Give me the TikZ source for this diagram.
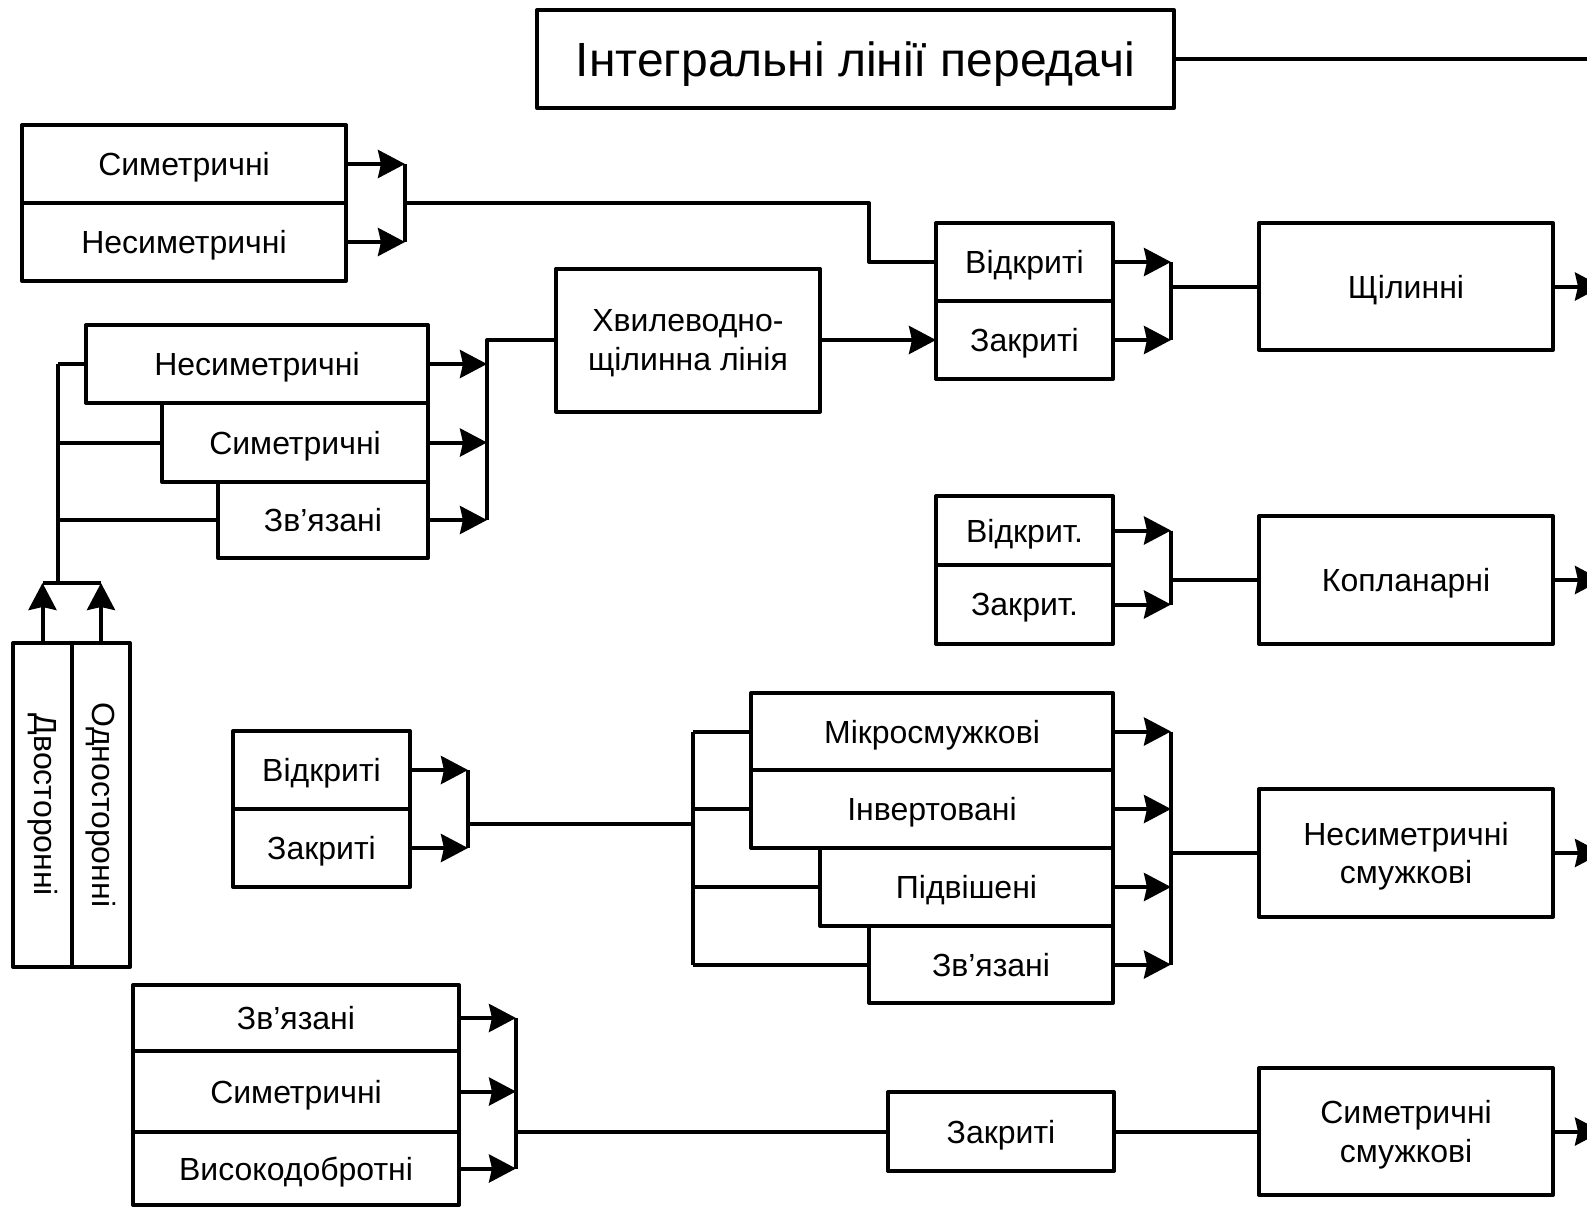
\documentclass[tikz,border=0pt]{standalone}
\usepackage{fontspec}
\setmainfont{Liberation Sans}
\usetikzlibrary{arrows.meta}
\newcommand\mybox[7][]{\node[box,minimum width=#5pt,minimum height=#6pt,#1] (#2) at (#3,#4) {#7};}
\newcommand\vtext[1]{\raisebox{\depth}{\rotatebox{-90}{#1}}}
\begin{document}
\begin{tikzpicture}[x=1pt,y=-1pt,
  box/.style={draw, line width=4pt, inner sep=0pt, outer sep=0pt, align=center,
    font=\fontsize{32}{38.5}\selectfont, text depth=0pt, line join=round},
  ln/.style={line width=4pt, line join=round},
  arr/.style={ln, -{Stealth[length=27pt,width=28pt,inset=3pt]}}]
\useasboundingbox (0,0) rectangle (1587,1208);
\clip (0,0) rectangle (1587,1208);
% title
\mybox[font=\fontsize{48}{50}\selectfont]{title}{855.5}{59}{637}{98}{Інтегральні лінії передачі}
\coordinate (tE) at (1600,59);
\draw[ln] (title.east) -- (tE);
% group A (top-left)
\mybox{a1}{184}{164}{324}{78}{Симетричні}
\mybox{a2}{184}{242}{324}{78}{Несиметричні}
\coordinate (bA1) at (405,164);
\coordinate (bA2) at (405,242);
\coordinate (bAm) at (405,203);
\coordinate (kA1) at (869,203);
\coordinate (kA2) at (869,262);
\draw[arr] (a1.east) -- (bA1);
\draw[arr] (a2.east) -- (bA2);
\draw[ln] (bA1) -- (bA2);
% group B (Щілинні)
\mybox{b1}{1024.5}{262}{177}{78}{Відкриті}
\mybox{b2}{1024.5}{340}{177}{78}{Закриті}
\draw[ln] (bAm) -- (kA1) -- (kA2) -- (b1.west);
\coordinate (bB1) at (1171,262);
\coordinate (bB2) at (1171,340);
\coordinate (bBm) at (1171,286.5);
\draw[arr] (b1.east) -- (bB1);
\draw[arr] (b2.east) -- (bB2);
\draw[ln] (bB1) -- (bB2);
\mybox{shch}{1406}{286.5}{294}{127}{Щілинні}
\draw[ln] (bBm) -- (shch.west);
\coordinate (eB) at (1602,286.5);
\draw[arr] (shch.east) -- (eB);
% waveguide-slot line
\mybox{hv}{688}{340}{264}{143}{Хвилеводно-\\щілинна лінія}
\draw[arr] (hv.east) -- (b2.west);
% group C (middle-left)
\mybox{c1}{257}{364}{342}{78}{Несиметричні}
\mybox{c2}{295}{442.5}{266}{79}{Симетричні}
\mybox{c3}{323}{520}{210}{76}{Зв’язані}
\coordinate (bC0) at (487,340);
\coordinate (bC1) at (487,364);
\coordinate (bC2) at (487,442.5);
\coordinate (bC3) at (487,520);
\draw[arr] (c1.east) -- (bC1);
\draw[arr] (c2.east) -- (bC2);
\draw[arr] (c3.east) -- (bC3);
\draw[ln] (bC3) -- (bC0) -- (hv.west);
\coordinate (sp1) at (58,364);
\coordinate (sp2) at (58,442.5);
\coordinate (sp3) at (58,520);
\coordinate (spB) at (58,583);
\coordinate (spL) at (42.5,583);
\coordinate (spR) at (101,583);
\draw[ln] (sp1) -- (spB);
\draw[ln] (sp1) -- (c1.west);
\draw[ln] (sp2) -- (c2.west);
\draw[ln] (sp3) -- (c3.west);
\draw[ln] (spL) -- (spR);
\mybox{dv}{42.5}{805}{59}{324}{\vtext{Двосторонні}}
\mybox{od}{101}{805}{58}{324}{\vtext{Односторонні}}
\draw[arr] (dv.north) -- (spL);
\draw[arr] (od.north) -- (spR);
% group D (Копланарні)
\mybox{d1}{1024.5}{530.5}{177}{69}{Відкрит.}
\mybox{d2}{1024.5}{604.5}{177}{79}{Закрит.}
\coordinate (bD1) at (1171,530.5);
\coordinate (bD2) at (1171,604.5);
\coordinate (bDm) at (1171,580);
\draw[arr] (d1.east) -- (bD1);
\draw[arr] (d2.east) -- (bD2);
\draw[ln] (bD1) -- (bD2);
\mybox{kop}{1406}{580}{294}{128}{Копланарні}
\draw[ln] (bDm) -- (kop.west);
\coordinate (eD) at (1602,580);
\draw[arr] (kop.east) -- (eD);
% group E (lower)
\mybox{e1}{321.5}{770}{177}{78}{Відкриті}
\mybox{e2}{321.5}{848}{177}{78}{Закриті}
\coordinate (bE1) at (468,770);
\coordinate (bE2) at (468,848);
\coordinate (bEm) at (468,824);
\draw[arr] (e1.east) -- (bE1);
\draw[arr] (e2.east) -- (bE2);
\draw[ln] (bE1) -- (bE2);
\coordinate (sq0) at (693,824);
\coordinate (sq1) at (693,731.5);
\coordinate (sq2) at (693,809);
\coordinate (sq3) at (693,887);
\coordinate (sq4) at (693,964.5);
\draw[ln] (bEm) -- (sq0);
\draw[ln] (sq1) -- (sq4);
\mybox{f1}{932}{731.5}{362}{77}{Мікросмужкові}
\mybox{f2}{932}{809}{362}{78}{Інвертовані}
\mybox{f3}{966.5}{887}{293}{78}{Підвішені}
\mybox{f4}{991}{964.5}{244}{77}{Зв’язані}
\draw[ln] (sq1) -- (f1.west);
\draw[ln] (sq2) -- (f2.west);
\draw[ln] (sq3) -- (f3.west);
\draw[ln] (sq4) -- (f4.west);
\coordinate (bF1) at (1171,731.5);
\coordinate (bF2) at (1171,809);
\coordinate (bF3) at (1171,887);
\coordinate (bF4) at (1171,964.5);
\coordinate (bFm) at (1171,853);
\draw[arr] (f1.east) -- (bF1);
\draw[arr] (f2.east) -- (bF2);
\draw[arr] (f3.east) -- (bF3);
\draw[arr] (f4.east) -- (bF4);
\draw[ln] (bF1) -- (bF4);
\mybox{nss}{1406}{853}{294}{127.5}{Несиметричні\\смужкові}
\draw[ln] (bFm) -- (nss.west);
\coordinate (eF) at (1602,853);
\draw[arr] (nss.east) -- (eF);
% group G (bottom)
\mybox{g1}{296}{1018}{326}{66}{Зв’язані}
\mybox{g2}{296}{1091.5}{326}{81}{Симетричні}
\mybox{g3}{296}{1168.5}{326}{73}{Високодобротні}
\coordinate (bG1) at (516,1018);
\coordinate (bG2) at (516,1091.5);
\coordinate (bG3) at (516,1168.5);
\coordinate (bGm) at (516,1131.5);
\draw[arr] (g1.east) -- (bG1);
\draw[arr] (g2.east) -- (bG2);
\draw[arr] (g3.east) -- (bG3);
\draw[ln] (bG1) -- (bG3);
\mybox{zk}{1001}{1131.5}{226}{79}{Закриті}
\mybox{sss}{1406}{1131.5}{294}{127}{Симетричні\\смужкові}
\draw[ln] (bGm) -- (zk.west);
\draw[ln] (zk.east) -- (sss.west);
\coordinate (eG) at (1602,1131.5);
\draw[arr] (sss.east) -- (eG);
\end{tikzpicture}
\end{document}
